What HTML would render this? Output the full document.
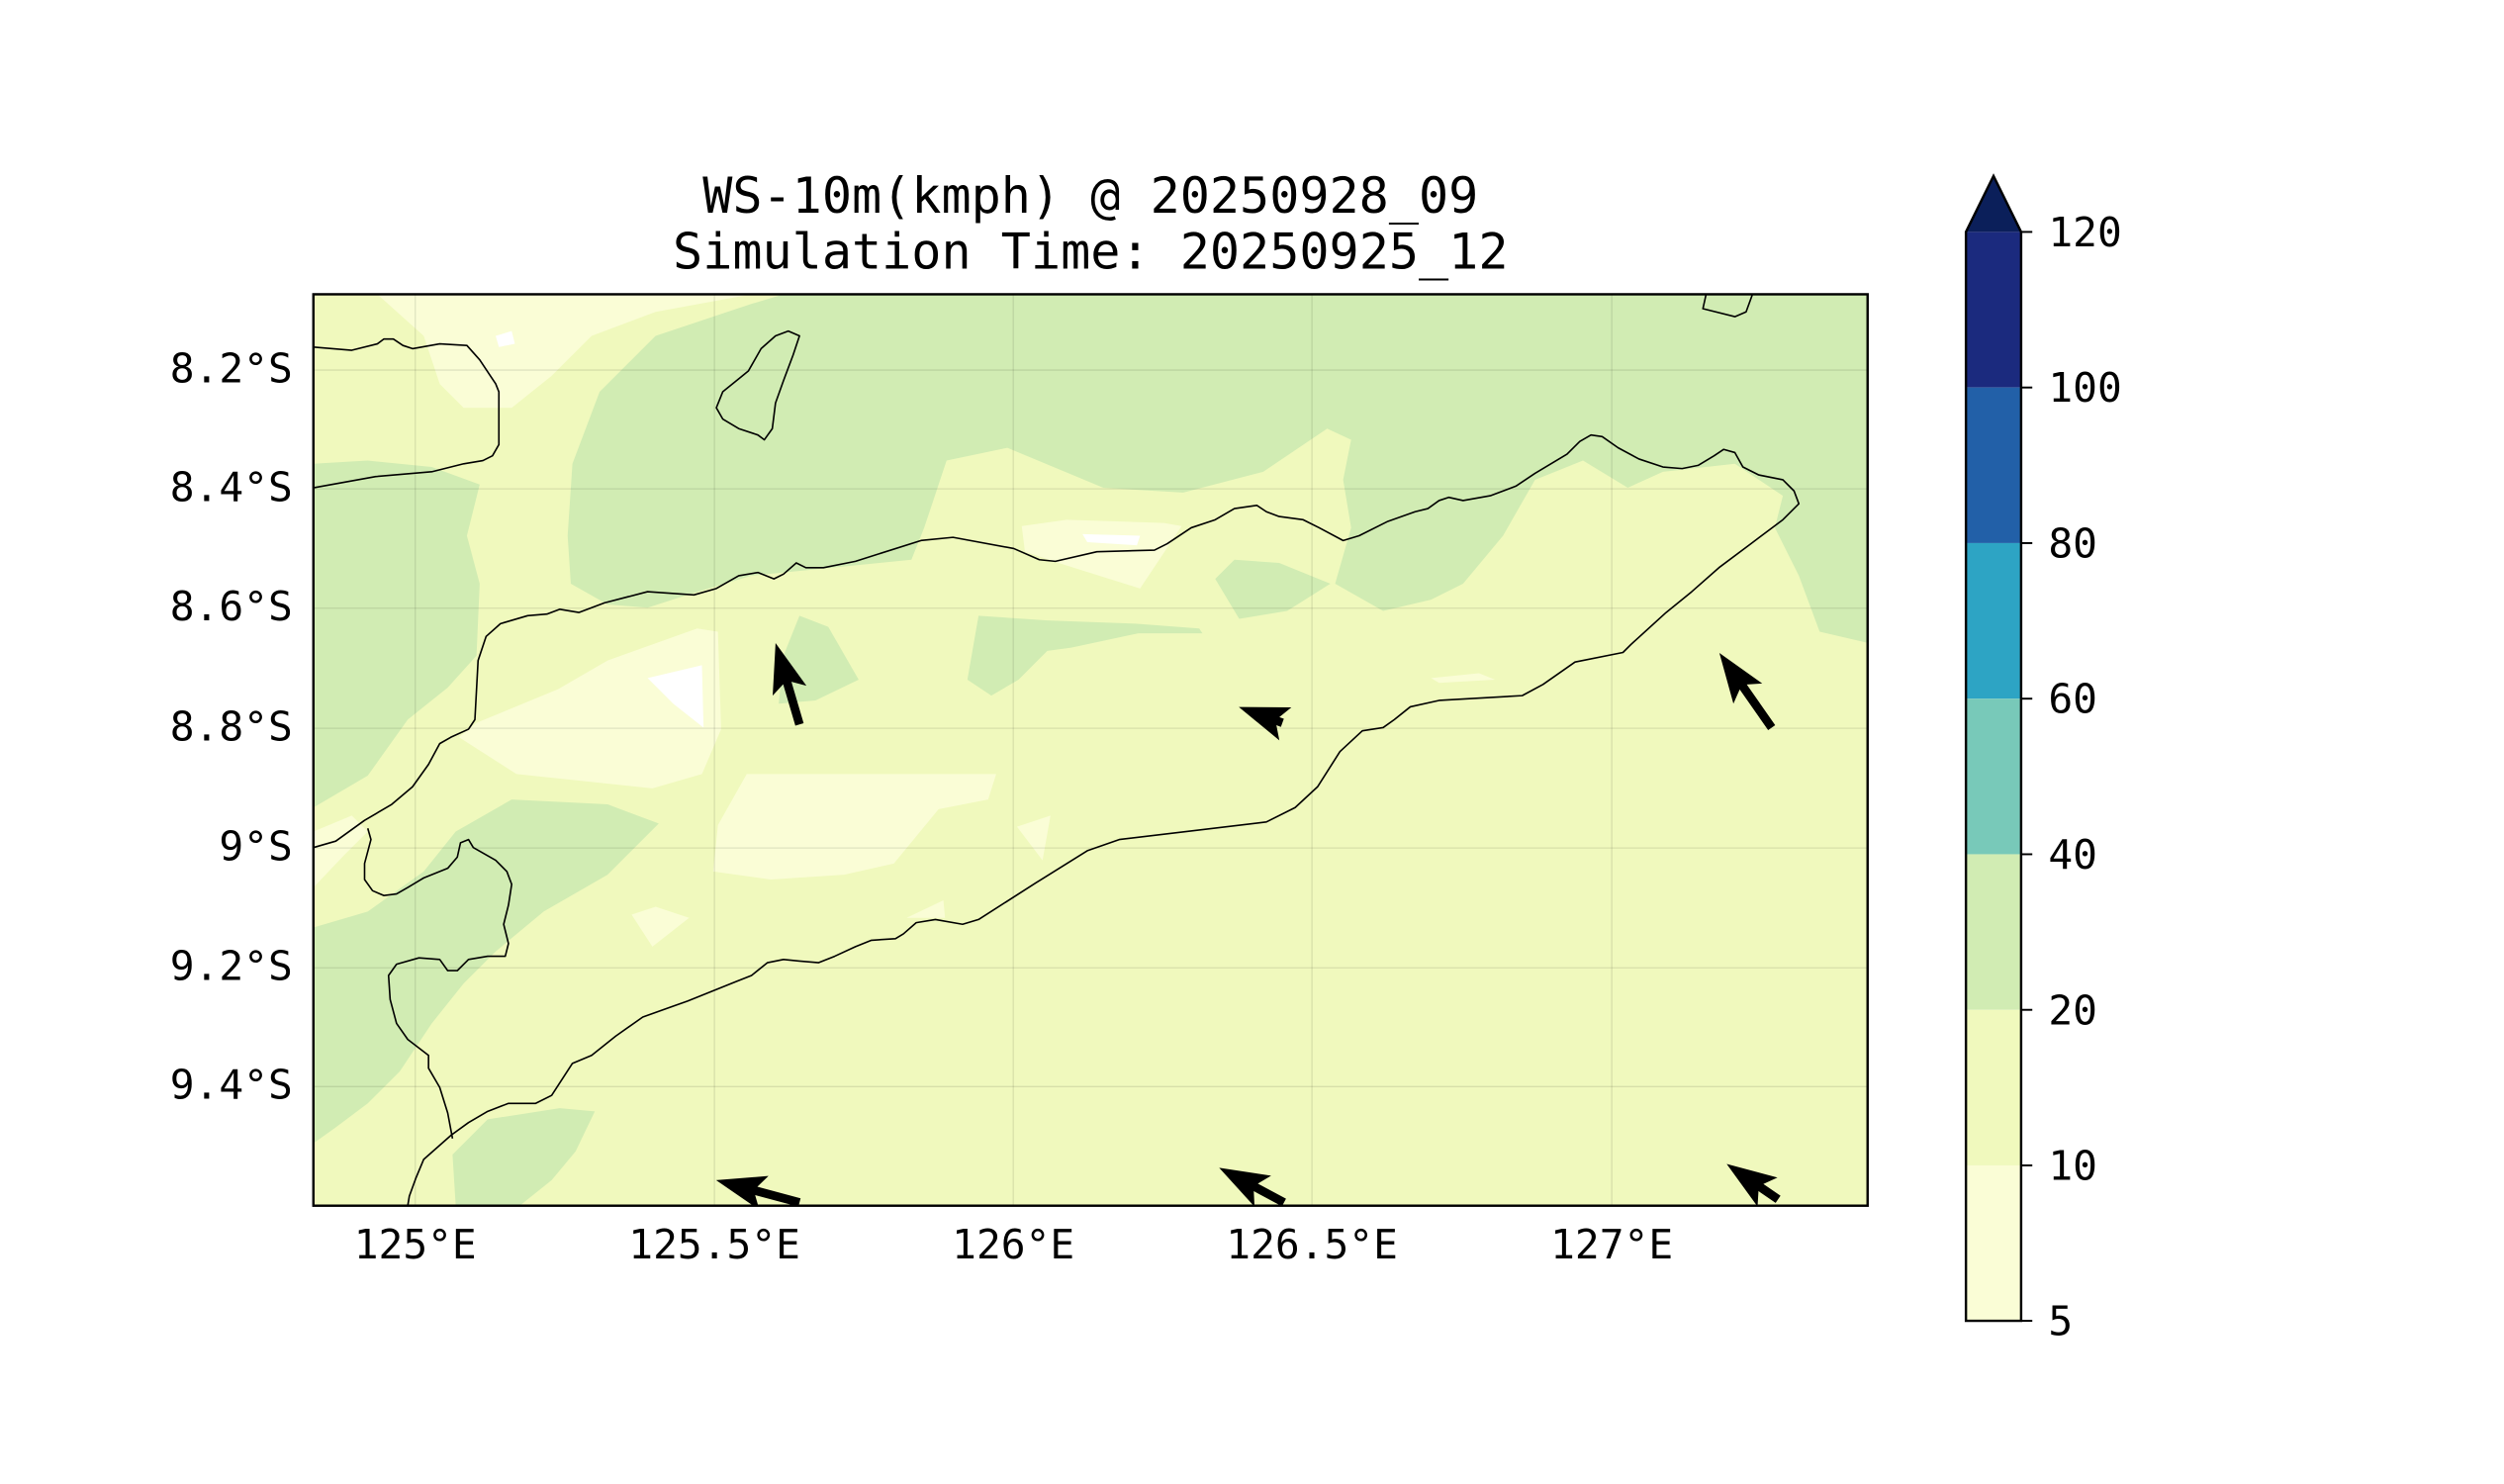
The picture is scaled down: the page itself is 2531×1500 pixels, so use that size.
<!DOCTYPE html>
<html><head><meta charset="utf-8"><style>
html,body{margin:0;padding:0;background:#fff}
svg{display:block}
text{font-family:"DejaVu Sans Mono","Liberation Mono",monospace;fill:#000}
</style></head><body>
<svg width="2531" height="1500" viewBox="0 0 1566 928" xmlns="http://www.w3.org/2000/svg">
<defs><clipPath id="c"><rect x="196" y="184" width="972" height="570"/></clipPath></defs>
<g clip-path="url(#c)">
<rect x="196" y="184" width="972" height="570" fill="#f0f9bd"/>
<g fill="#fafdd6">
<polygon points="236,184 470,184 410,195 370,210 345,235 320,255 290,255 275,240 265,210"/>
<polygon points="298,452 349,431 380,413 436,393 449,395 451,456 439,484 408,493 323,484 287,461"/>
<polygon points="467,484 623,484 618,500 587,506 559,540 528,547 482,550 446,545 449,516"/>
<polygon points="636,517 657,510 652,538"/>
<polygon points="395,572 410,567 431,574 408,592"/>
<polygon points="567,574 590,563 591,574"/>
<polygon points="639,329 667,325 728,327 739,329 713,368 662,352 641,345"/>
<polygon points="895,424 925,421 935,425 900,427"/>
<polygon points="196,520 220,510 230,520 215,535 196,555"/>
</g>
<g fill="#ffffff">
<polygon points="405,424 439,416 440,455 421,440"/>
<polygon points="677,334 713,335 711,341 680,339"/>
<polygon points="310,210 320,207 322,215 312,217"/>
</g>
<g fill="#d1ecb3">
<polygon points="490,184 1168,184 1168,402 1138,395 1125,360 1110,330 1115,310 1085,290 1040,295 1018,305 990,288 960,300 940,335 915,365 895,375 865,382 835,365 845,330 840,300 845,275 830,268 790,295 740,308 690,305 630,280 592,288 578,330 570,350 520,355 470,360 430,372 405,380 380,378 357,365 355,335 358,290 375,245 410,210 470,190"/>
<polygon points="760,362 772,350 800,352 832,365 805,382 775,387"/>
<polygon points="490,410 500,385 518,392 537,425 510,438 487,440"/>
<polygon points="612,385 655,388 710,390 750,393 752,396 712,396 670,405 655,407 637,425 620,435 605,425"/>
<polygon points="196,290 230,288 270,292 300,303 292,335 300,365 298,410 280,430 255,450 230,485 196,505"/>
<polygon points="196,580 230,570 265,545 285,520 320,500 380,503 412,515 380,547 340,570 310,595 290,615 270,640 250,670 230,690 210,705 196,715"/>
<polygon points="285,754 283,722 305,700 350,693 372,695 360,720 345,738 325,754"/>
</g>
<g stroke="#000" stroke-opacity="0.1" stroke-width="0.8">
<line x1="259.7" y1="184" x2="259.7" y2="754"/><line x1="446.8" y1="184" x2="446.8" y2="754"/><line x1="633.7" y1="184" x2="633.7" y2="754"/><line x1="820.5" y1="184" x2="820.5" y2="754"/><line x1="1008" y1="184" x2="1008" y2="754"/>
<line x1="196" y1="231.4" x2="1168" y2="231.4"/><line x1="196" y1="305.7" x2="1168" y2="305.7"/><line x1="196" y1="380.3" x2="1168" y2="380.3"/><line x1="196" y1="455.4" x2="1168" y2="455.4"/><line x1="196" y1="530.3" x2="1168" y2="530.3"/><line x1="196" y1="605.2" x2="1168" y2="605.2"/><line x1="196" y1="679.5" x2="1168" y2="679.5"/>
</g>
<g fill="none" stroke="#000" stroke-width="1" stroke-linejoin="round">
<polyline points="196,217 220,219 236,215 240,212 246,212 252,216 258,218 275,215 292,216 300,225 310,240 312,245 312,278 308,285 302,288 290,290 270,295 235,298 196,305"/>
<polygon points="500,210 496,222 490,238 485,252 483,268 478,275 474,272 462,268 452,262 448,255 452,245 468,232 476,218 485,210 493,207"/>
<polyline points="196,530 210,526 228,513 245,503 258,492 268,478 275,465 282,461 293,456 297,450 299,413 304,398 313,390 330,385 342,384 350,381 362,383 378,377 405,370 434,372 448,368 462,360 474,358 484,362 490,359 498,352 504,355 515,355 535,351 576,338 596,336 634,343 650,350 660,351 686,345 722,344 730,340 745,330 760,325 772,318 786,316 792,320 800,323 815,325 825,330 840,338 850,335 868,326 885,320 893,318 900,313 906,311 915,313 932,310 948,304 960,296 980,284 988,276 995,272 1002,273 1012,280 1025,287 1040,292 1052,293 1062,291 1072,285 1078,281 1085,283 1090,292 1100,297 1115,300 1122,307 1125,315 1115,325 1095,340 1075,355 1058,370 1042,383 1020,403 1015,408 985,414 965,428 952,435 900,438 882,442 872,450 865,455 852,457 838,470 824,492 810,505 792,514 700,525 680,532 648,552 612,575 602,578 585,575 573,577 565,584 560,587 545,588 535,592 522,598 512,602 500,601 490,600 480,602 470,610 460,614 430,626 402,636 385,648 370,660 358,665 345,685 335,690 318,690 305,695 293,702 282,710 265,725 260,737 256,748 255,754"/>
<polyline points="230,518 232,525 228,540 228,550 233,557 240,560 248,559 255,555 265,549 280,543 286,536 288,527 293,525 296,530 310,538 317,545 320,553 318,566 315,578 318,590 316,598 305,598 293,600 286,607 280,607 275,600 262,599 248,603 243,610 244,625 248,640 255,650 268,660 268,668 275,680 280,696 283,712"/>
<polyline points="1067,184 1065,193 1085,198 1092,195 1096,184"/>
</g>
<g fill="#000">
<polygon transform="translate(500,453) rotate(-106.4)" points="0,-2.7 27,-2.7 22,-11 53,0 22,11 27,2.7 0,2.7"/>
<polygon transform="translate(802,452) rotate(-160)" points="0,-2.7 3,-2.7 -2,-11 29,0 -2,11 3,2.7 0,2.7"/>
<polygon transform="translate(1108,455) rotate(-125)" points="0,-2.7 31,-2.7 26,-11 57,0 26,11 31,2.7 0,2.7"/>
<polygon transform="translate(500,752) rotate(-165)" points="0,-2.7 28,-2.7 23,-11 54,0 23,11 28,2.7 0,2.7"/>
<polygon transform="translate(803,752) rotate(-151.8)" points="0,-2.7 20,-2.7 15,-11 46,0 15,11 20,2.7 0,2.7"/>
<polygon transform="translate(1112,750) rotate(-145.5)" points="0,-2.7 13,-2.7 8,-11 39,0 8,11 13,2.7 0,2.7"/>
</g>
</g>
<rect x="196" y="184" width="972" height="570" fill="none" stroke="#000" stroke-width="1.5"/>
<g font-size="25.5" text-anchor="end">
<text x="183" y="239">8.2°S</text><text x="183" y="313.3">8.4°S</text><text x="183" y="387.9">8.6°S</text><text x="183" y="463">8.8°S</text><text x="183" y="537.9">9°S</text><text x="183" y="612.8">9.2°S</text><text x="183" y="687.1">9.4°S</text>
</g>
<g font-size="25.5" text-anchor="middle">
<text x="259.7" y="787">125°E</text><text x="446.8" y="787">125.5°E</text><text x="633.7" y="787">126°E</text><text x="820.5" y="787">126.5°E</text><text x="1008" y="787">127°E</text>
</g>
<g font-size="31" text-anchor="middle">
<text x="682" y="133">WS-10m(kmph) @ 20250928_09</text>
<text x="682" y="168">Simulation Time: 20250925_12</text>
</g>
<g>
<rect x="1229.5" y="145" width="34.5" height="97.3" fill="#1b2a7e"/>
<rect x="1229.5" y="242.3" width="34.5" height="97.3" fill="#2260a8"/>
<rect x="1229.5" y="339.6" width="34.5" height="97.3" fill="#2da4c4"/>
<rect x="1229.5" y="436.9" width="34.5" height="97.3" fill="#78c9b9"/>
<rect x="1229.5" y="534.2" width="34.5" height="97.3" fill="#d1ecb3"/>
<rect x="1229.5" y="631.5" width="34.5" height="97.3" fill="#f0f9bd"/>
<rect x="1229.5" y="728.8" width="34.5" height="97.2" fill="#fafdd6"/>
<polygon points="1229.5,145 1246.75,110 1264,145" fill="#0b1f5a"/>
<polygon points="1229.5,826 1229.5,145 1246.75,110 1264,145 1264,826" fill="none" stroke="#000" stroke-width="1.5"/>
<g stroke="#000" stroke-width="1.2">
<line x1="1264" y1="145" x2="1271" y2="145"/><line x1="1264" y1="242.3" x2="1271" y2="242.3"/><line x1="1264" y1="339.6" x2="1271" y2="339.6"/><line x1="1264" y1="436.9" x2="1271" y2="436.9"/><line x1="1264" y1="534.2" x2="1271" y2="534.2"/><line x1="1264" y1="631.5" x2="1271" y2="631.5"/><line x1="1264" y1="728.8" x2="1271" y2="728.8"/><line x1="1264" y1="826" x2="1271" y2="826"/>
</g>
<g font-size="25.5">
<text x="1281" y="154">120</text><text x="1281" y="251.3">100</text><text x="1281" y="348.6">80</text><text x="1281" y="445.9">60</text><text x="1281" y="543.2">40</text><text x="1281" y="640.5">20</text><text x="1281" y="737.8">10</text><text x="1281" y="835">5</text>
</g>
</g>
</svg>
</body></html>
